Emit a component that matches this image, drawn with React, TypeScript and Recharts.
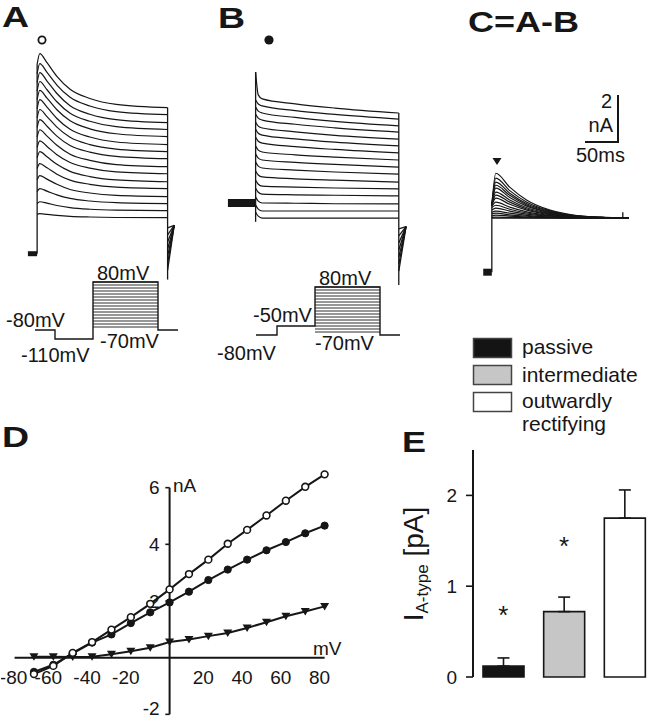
import React from 'react'
import {
  LineChart,
  Line,
  XAxis,
  YAxis,
  ReferenceLine,
  ReferenceDot,
  ComposedChart,
  Bar,
  Cell,
  ErrorBar,
  Scatter,
} from 'recharts'

const FONT = '"Liberation Sans", Arial, sans-serif'
const INK = '#161616'

// A: currents after the -110 mV prepulse (nA, 0 = holding current), one row per sweep
const aTime = [0, 4, 15, 30, 50, 80, 120, 198]
const aSweeps = [
  [8.05, 8.51, 8.12, 7.54, 6.99, 6.6, 6.35, 6.21],
  [7.65, 8.08, 7.71, 7.17, 6.65, 6.28, 6.04, 5.91],
  [7.27, 7.7, 7.34, 6.81, 6.29, 5.93, 5.7, 5.57],
  [6.91, 7.32, 6.97, 6.46, 5.97, 5.63, 5.4, 5.28],
  [6.55, 6.94, 6.61, 6.12, 5.65, 5.31, 5.1, 4.98],
  [6.17, 6.55, 6.23, 5.75, 5.29, 4.96, 4.75, 4.64],
  [5.77, 6.13, 5.83, 5.38, 4.95, 4.64, 4.45, 4.34],
  [5.37, 5.7, 5.42, 5.0, 4.6, 4.32, 4.14, 4.04],
  [4.96, 5.27, 5.0, 4.61, 4.23, 3.97, 3.79, 3.7],
  [4.52, 4.8, 4.56, 4.21, 3.88, 3.64, 3.48, 3.4],
  [4.08, 4.34, 4.12, 3.8, 3.5, 3.28, 3.14, 3.06],
  [3.62, 3.83, 3.65, 3.38, 3.13, 2.95, 2.83, 2.77],
  [3.14, 3.32, 3.17, 2.95, 2.73, 2.58, 2.48, 2.43],
  [2.64, 2.77, 2.66, 2.5, 2.35, 2.24, 2.17, 2.13],
  [2.13, 2.21, 2.15, 2.05, 1.96, 1.89, 1.85, 1.83],
  [1.67, 1.7, 1.67, 1.63, 1.59, 1.56, 1.54, 1.53],
]
const aTailFan = [1.1, 0.8, 0.5, 0.2, -0.1, -0.4, -0.7]

// B: currents after the -50 mV prepulse
const bTime = [0, 4, 10, 60, 120, 217]
const bSweeps = [
  [5.57, 4.6, 4.43, 4.22, 4.04, 3.83],
  [4.38, 4.21, 4.13, 3.93, 3.77, 3.57],
  [4.08, 3.91, 3.83, 3.64, 3.47, 3.28],
  [3.78, 3.61, 3.53, 3.35, 3.2, 3.02],
  [3.44, 3.27, 3.19, 3.03, 2.88, 2.72],
  [3.14, 2.97, 2.89, 2.73, 2.59, 2.43],
  [2.8, 2.63, 2.55, 2.4, 2.28, 2.13],
  [2.42, 2.25, 2.17, 2.05, 1.95, 1.83],
  [2.08, 1.91, 1.83, 1.73, 1.64, 1.53],
  [1.74, 1.57, 1.49, 1.4, 1.32, 1.23],
  [1.36, 1.19, 1.11, 1.03, 0.97, 0.89],
  [0.97, 0.8, 0.72, 0.68, 0.64, 0.6],
  [0.63, 0.46, 0.38, 0.35, 0.33, 0.3],
  [0.25, 0.08, 0, -0.01, -0.03, -0.04],
  [-0.09, -0.26, -0.34, -0.34, -0.34, -0.34],
  [-0.39, -0.56, -0.64, -0.64, -0.64, -0.64],
]
const bTailFan = [-1.1, -1.4, -1.7, -2.0, -2.3, -2.6, -2.9]

// C = A - B, transient A-type current
const cTime = [0, 6, 27, 53, 88, 123, 164, 207]
const cSweeps = [
  [2.85, 4.21, 3.62, 3.06, 2.64, 2.43, 2.34, 2.3],
  [2.85, 4.0, 3.47, 2.98, 2.61, 2.42, 2.33, 2.3],
  [2.85, 3.83, 3.36, 2.91, 2.58, 2.41, 2.33, 2.3],
  [2.85, 3.7, 3.27, 2.86, 2.55, 2.4, 2.33, 2.3],
  [2.85, 3.58, 3.18, 2.81, 2.53, 2.39, 2.33, 2.3],
  [2.85, 3.41, 3.07, 2.74, 2.5, 2.38, 2.32, 2.3],
  [2.85, 3.28, 2.98, 2.69, 2.48, 2.37, 2.32, 2.3],
  [2.85, 3.15, 2.89, 2.64, 2.45, 2.36, 2.32, 2.3],
  [2.8, 2.98, 2.77, 2.57, 2.42, 2.35, 2.31, 2.3],
  [2.75, 2.85, 2.68, 2.52, 2.4, 2.34, 2.31, 2.3],
  [2.65, 2.73, 2.6, 2.47, 2.38, 2.33, 2.31, 2.3],
  [2.55, 2.6, 2.51, 2.42, 2.35, 2.32, 2.31, 2.3],
  [2.48, 2.51, 2.44, 2.38, 2.34, 2.31, 2.3, 2.3],
  [2.4, 2.43, 2.39, 2.35, 2.32, 2.31, 2.3, 2.3],
  [2.33, 2.34, 2.33, 2.32, 2.31, 2.3, 2.3, 2.3],
  [2.3, 2.3, 2.3, 2.3, 2.3, 2.3, 2.3, 2.3],
]

// voltage protocols (schematic time, mV)
const stepLevels = [-70, -60, -50, -40, -30, -20, -10, 0, 10, 20, 30, 40, 50, 60, 70, 80]
const protoA = [
  { t: 10, v: -80 }, { t: 50, v: -80 }, { t: 50, v: -110 }, { t: 126, v: -110 },
  { t: 126, v: 80 }, { t: 256, v: 80 }, { t: 256, v: -80 }, { t: 296, v: -80 },
]
const protoB = [
  { t: 12, v: -80 }, { t: 54, v: -80 }, { t: 54, v: -50 }, { t: 130, v: -50 },
  { t: 130, v: 80 }, { t: 260, v: 80 }, { t: 260, v: -80 }, { t: 300, v: -80 },
]

// D: I-V relation
const dVoltage = [-70, -60, -50, -40, -30, -20, -10, 0, 10, 20, 30, 40, 50, 60, 70, 80]
const dOpen = [-0.58, -0.29, 0.17, 0.55, 0.99, 1.43, 1.9, 2.41, 2.95, 3.46, 4.02, 4.51, 5.02, 5.54, 6.03, 6.47]
const dFilled = [-0.5, -0.25, 0.15, 0.53, 0.82, 1.22, 1.6, 1.95, 2.33, 2.74, 3.11, 3.46, 3.79, 4.08, 4.39, 4.66]
const dTri = [0.03, 0.03, 0.02, 0.03, 0.12, 0.23, 0.35, 0.55, 0.64, 0.76, 0.87, 1.05, 1.25, 1.46, 1.63, 1.81]
const dXTicks = [-80, -60, -40, -20, 20, 40, 60, 80]
const dYTicks = [6, 4, 2, -2]

// E: A-type current per cell class
const eCategories = ['passive', 'intermediate', 'outwardly rectifying']
const eMeans = [0.12, 0.72, 1.75]
const eSem = [0.09, 0.16, 0.31]
const eStars = [0.73, 1.49, null]
const eFills = ['#141414', '#c6c6c6', '#ffffff']

const toRows = (time: number[], sweeps: number[][]) =>
  time.map((t, i) => {
    const row: Record<string, number> = { t }
    sweeps.forEach((s, k) => {
      row['s' + k] = s[i]
    })
    return row
  })

const aRows = toRows(aTime, aSweeps)
const bRows = toRows(bTime, bSweeps)
const cRows = toRows(cTime, cSweeps)
const dRows = dVoltage.map((mV, i) => ({ mV, open: dOpen[i], filled: dFilled[i], tri: dTri[i] }))
const eRows = eCategories.map((name, i) => ({ name, mean: eMeans[i], err: [0, eSem[i]], star: eStars[i] }))

const seg = (x1: number, y1: number, x2: number, y2: number, w = 1.2, key?: string) => (
  <ReferenceLine
    key={key}
    segment={[{ x: x1, y: y1 }, { x: x2, y: y2 }]}
    stroke={INK}
    strokeWidth={w}
    ifOverflow="visible"
  />
)

function TracePanel({ left, top, width, height, xDomain, yDomain, rows, n, children }: any) {
  return (
    <div style={{ position: 'absolute', left, top }}>
      <LineChart width={width} height={height} data={rows} margin={{ top: 0, right: 0, bottom: 0, left: 0 }}>
        <XAxis type="number" dataKey="t" domain={xDomain} hide allowDataOverflow />
        <YAxis type="number" domain={yDomain} hide allowDataOverflow />
        {children}
        {Array.from({ length: n }, (_, k) => (
          <Line
            key={k}
            type="monotone"
            dataKey={'s' + k}
            stroke={INK}
            strokeWidth={1.2}
            dot={false}
            isAnimationActive={false}
          />
        ))}
      </LineChart>
    </div>
  )
}

function Protocol({ left, top, path, boxStart, boxEnd }: any) {
  return (
    <div style={{ position: 'absolute', left, top }}>
      <LineChart width={160} height={75} data={path} margin={{ top: 0, right: 0, bottom: 0, left: 0 }}>
        <XAxis type="number" dataKey="t" domain={[0, 320]} hide allowDataOverflow />
        <YAxis type="number" domain={[-140, 110]} hide allowDataOverflow />
        {stepLevels.map((lv) => seg(boxStart, lv, boxEnd, lv, 0.9, 'l' + lv))}
        <Line type="linear" dataKey="v" stroke={INK} strokeWidth={1.4} dot={false} isAnimationActive={false} />
      </LineChart>
    </div>
  )
}

const triDot = (p: any) => (
  <path
    key={'tri' + p.index}
    d={`M${p.cx - 4.5},${p.cy - 3.5} L${p.cx + 4.5},${p.cy - 3.5} L${p.cx},${p.cy + 4} Z`}
    fill={INK}
  />
)

export default function App() {
  return (
    <div
      style={{
        position: 'absolute',
        left: 0,
        top: 0,
        width: 652,
        height: 720,
        overflow: 'hidden',
        background: '#fff',
        fontFamily: FONT,
      }}
    >
      {/* A traces */}
      <TracePanel left={20} top={42} width={170} height={247} xDomain={[-26, 232]} yDomain={[-1.5, 9]} rows={aRows} n={16}>
        {seg(-14, 0, 0, 0, 5, 'hold')}
        {seg(0, 0, 0, 8.05, 1.3, 'step')}
        {seg(198, 6.21, 198, -1.1, 1.3, 'end')}
        {aTailFan.map((y, i) => seg(198, y, 208, 1.2, 1.3, 'f' + i))}
      </TracePanel>

      {/* B traces */}
      <TracePanel left={220} top={42} width={190} height={248} xDomain={[-54, 234]} yDomain={[-3.7, 6.85]} rows={bRows} n={16}>
        {seg(-42, 0, 0, 0, 8, 'hold')}
        {seg(0, -0.8, 0, 5.57, 1.3, 'step')}
        {seg(217, 3.83, 217, -3.49, 1.3, 'end')}
        {bTailFan.map((y, i) => seg(217, y, 228, -1.0, 1.3, 'f' + i))}
      </TracePanel>

      {/* C traces */}
      <TracePanel left={470} top={150} width={170} height={141} xDomain={[-33, 224]} yDomain={[-0.8, 5.2]} rows={cRows} n={16}>
        {seg(-13, 0, 0, 0, 7, 'hold')}
        {seg(0, 0, 0, 2.85, 1.3, 'step')}
        {seg(198, 2.3, 198, 2.55, 1.3, 'spike')}
      </TracePanel>

      <Protocol left={30} top={273} path={protoA} boxStart={126} boxEnd={256} />
      <Protocol left={250} top={278} path={protoB} boxStart={130} boxEnd={260} />

      {/* D: I-V curves */}
      <div style={{ position: 'absolute', left: 1, top: 465 }}>
        <LineChart width={343} height={255} data={dRows} margin={{ top: 0, right: 0, bottom: 0, left: 0 }}>
          <XAxis type="number" dataKey="mV" domain={[-87, 90]} hide allowDataOverflow />
          <YAxis type="number" domain={[-2.2, 6.8]} hide allowDataOverflow />
          {dYTicks.map((v) => (
            <ReferenceDot
              key={'yl' + v}
              x={0}
              y={v}
              r={0}
              ifOverflow="visible"
              shape={(p: any) => (
                <text x={p.cx - 10} y={p.cy + (v < 0 ? 0.5 : 6.5)} textAnchor="end" fontSize={19} fontFamily={FONT} fill={INK}>
                  {v}
                </text>
              )}
            />
          ))}
          {dXTicks.map((v) => (
            <ReferenceDot
              key={'xl' + v}
              x={v}
              y={0}
              r={0}
              ifOverflow="visible"
              shape={(p: any) => (
                <text
                  x={p.cx + (v === -80 ? -1 : -5)}
                  y={p.cy + 26}
                  textAnchor="middle"
                  fontSize={19}
                  fontFamily={FONT}
                  fill={INK}
                >
                  {v}
                </text>
              )}
            />
          ))}
          {seg(-80, 0, 80, 0, 2, 'xaxis')}
          {seg(0, -2, 0, 6, 2, 'yaxis')}
          {dYTicks.map((v) => seg(-2.2, v, 0, v, 1.6, 'yt' + v))}
          <Line type="linear" dataKey="tri" stroke={INK} strokeWidth={2} dot={triDot} isAnimationActive={false} />
          <Line
            type="linear"
            dataKey="filled"
            stroke={INK}
            strokeWidth={2}
            dot={{ r: 3.6, fill: INK, stroke: INK, strokeWidth: 1 }}
            isAnimationActive={false}
          />
          <Line
            type="linear"
            dataKey="open"
            stroke={INK}
            strokeWidth={2}
            dot={{ r: 3.4, fill: '#fff', stroke: INK, strokeWidth: 1.6 }}
            isAnimationActive={false}
          />
        </LineChart>
      </div>

      {/* E: bars */}
      <div style={{ position: 'absolute', left: 420, top: 440 }}>
        <ComposedChart width={235} height={250} data={eRows} margin={{ top: 10, right: 0, bottom: 13, left: 0 }} barCategoryGap={0}>
          <XAxis dataKey="name" tick={false} tickLine={false} height={0} axisLine={{ stroke: INK, strokeWidth: 2 }} />
          <YAxis
            domain={[0, 2.5]}
            ticks={[0, 1, 2]}
            width={53}
            tickSize={7}
            tickMargin={9}
            axisLine={{ stroke: INK, strokeWidth: 2 }}
            tickLine={{ stroke: INK, strokeWidth: 1.6 }}
            tick={{ fill: INK, fontSize: 19, fontFamily: FONT }}
          />
          <Bar dataKey="mean" barSize={41} stroke={INK} strokeWidth={1.6} isAnimationActive={false}>
            {eRows.map((r, i) => (
              <Cell key={r.name} fill={eFills[i]} />
            ))}
            <ErrorBar dataKey="err" direction="y" width={6} stroke={INK} strokeWidth={1.6} />
          </Bar>
          <Scatter
            dataKey="star"
            isAnimationActive={false}
            shape={(p: any) =>
              p.payload && p.payload.star != null && Number.isFinite(p.cy) ? (
                <text x={p.cx} y={p.cy + 13} textAnchor="middle" fontSize={26} fontFamily={FONT} fill={INK}>
                  *
                </text>
              ) : (
                <g />
              )
            }
          />
        </ComposedChart>
      </div>

      {/* text, legend and annotation overlay */}
      <svg width={652} height={720} style={{ position: 'absolute', left: 0, top: 0, pointerEvents: 'none' }} fontFamily={FONT} fill={INK}>
        <g fontWeight="bold" fontSize={30}>
          <text transform="translate(2,27) scale(1.25,1)">A</text>
          <text transform="translate(218,28) scale(1.25,1)">B</text>
          <text transform="translate(468,32) scale(1.2,1)">C=A-B</text>
          <text transform="translate(2,447) scale(1.25,1)">D</text>
          <text transform="translate(402,452) scale(1.2,1)">E</text>
        </g>

        <circle cx={42} cy={40} r={3.6} fill="#fff" stroke={INK} strokeWidth={1.8} />
        <circle cx={269} cy={40} r={4.6} fill={INK} />
        <path d="M492.5,158 L501.5,158 L497,165 Z" fill={INK} />

        <g fontSize={20}>
          <text x={97} y={280}>80mV</text>
          <text x={6} y={327}>-80mV</text>
          <text x={21} y={362}>-110mV</text>
          <text x={100} y={348}>-70mV</text>
          <text x={319} y={285}>80mV</text>
          <text x={253} y={322}>-50mV</text>
          <text x={217} y={360}>-80mV</text>
          <text x={315} y={350}>-70mV</text>
          <text x={612} y={108} textAnchor="end">2</text>
          <text x={613} y={132} textAnchor="end">nA</text>
          <text x={576} y={162}>50ms</text>
          <text x={173} y={492} fontSize={19}>nA</text>
          <text x={313} y={655} fontSize={19}>mV</text>
        </g>
        <path d="M618,95 L618,142 L585,142" fill="none" stroke={INK} strokeWidth={2} />

        {/* legend */}
        {eCategories.map((c, i) => (
          <rect key={c} x={473.5} y={338.5 + i * 27} width={38} height={19} fill={eFills[i]} stroke="#444" strokeWidth={1.5} />
        ))}
        <g fontSize={21}>
          <text x={522} y={354}>{eCategories[0]}</text>
          <text x={522} y={382}>{eCategories[1]}</text>
          <text x={522} y={408}>outwardly</text>
          <text x={522} y={431}>rectifying</text>
        </g>

        <text transform="translate(423,564) rotate(-90)" textAnchor="middle" fontSize={28}>
          I<tspan fontSize={17} dy={5}>A-type</tspan>
          <tspan dy={-5}> [pA]</tspan>
        </text>
      </svg>
    </div>
  )
}
